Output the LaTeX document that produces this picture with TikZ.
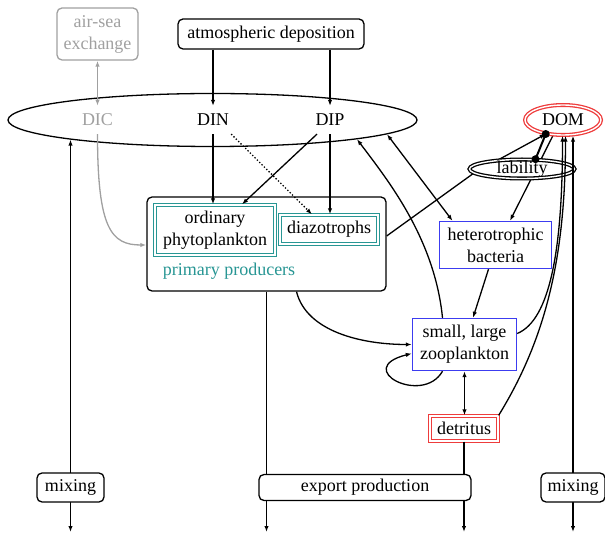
\documentclass[tikz,border=0pt]{standalone}
\usepackage{fontspec}
\setmainfont{Liberation Serif}
\usetikzlibrary{arrows.meta,shapes.geometric,backgrounds}
\definecolor{tealc}{RGB}{40,150,148}
\definecolor{bluec}{RGB}{60,60,240}
\definecolor{redc}{RGB}{238,60,60}
\definecolor{grayc}{RGB}{160,160,160}
\begin{document}
\begin{tikzpicture}[x=1pt,y=-1pt,
  every node/.style={font=\fontsize{18}{22}\selectfont, inner sep=0pt, align=center},
  conn/.style={line width=1.3pt, -{Latex[length=6pt,width=4.4pt]}},
  conntwo/.style={line width=1.3pt, {Latex[length=6pt,width=4.4pt]}-{Latex[length=6pt,width=4.4pt]}},
  rbox/.style={draw, line width=1.3pt, rounded corners=5pt, fill=white},
  tbox/.style={draw=tealc, line width=1.3pt, double=white, double distance=2pt, fill=white},
  bbox/.style={draw=bluec, line width=1.4pt, fill=white},
  rdbox/.style={draw=redc, line width=1.3pt, double=white, double distance=1.4pt, fill=white},
  lbl/.style={inner xsep=2pt, inner ysep=8pt},
]
\useasboundingbox (0,0) rectangle (605,534);

% free ends
\coordinate (endL) at (70.5,532);
\coordinate (endE) at (266.5,532);
\coordinate (endD) at (464,532);
\coordinate (endR) at (573,532);
% attachment points on the border of the nutrient pool
\coordinate (poolL) at (70.5,139.6);
\coordinate (poolB) at (387,134.3);
\coordinate (poolZ) at (357,139.2);

% nodes
\node[draw=grayc, text=grayc, line width=1.3pt, rounded corners=5pt, minimum width=81pt, minimum height=52pt] (airsea) at (97.5,34) {air-sea\\exchange};
\node[rbox, minimum width=186pt, minimum height=30pt] (atm) at (271,34) {atmospheric deposition};
\node[draw, ellipse, line width=1.3pt, minimum width=409pt, minimum height=53pt] (pool) at (212.5,120) {};
\node[lbl, text=grayc] (dic) at (97.5,120) {DIC};
\node[lbl] (din) at (213,120) {DIN};
\node[lbl] (dip) at (330,120) {DIP};
\node[ellipse, draw=redc, line width=1.3pt, double=white, double distance=1.4pt, minimum width=76pt, minimum height=30pt] (dom) at (563,120) {DOM};

\node[rbox, minimum width=239pt, minimum height=94pt] (pp) at (266.5,244) {};
\node[tbox, minimum width=120pt, minimum height=50pt] (phyto) at (215,230) {ordinary\\phytoplankton};
\node[tbox, minimum width=98pt, minimum height=29pt] (diaz) at (329,229.5) {diazotrophs};
\node[text=tealc] (pplab) at (229,271) {primary producers};

\node[bbox, minimum width=112pt, minimum height=47pt] (bact) at (495.5,245) {heterotrophic\\bacteria};
\node[bbox, minimum width=104pt, minimum height=52pt] (zoo) at (464.5,344.5) {small, large\\zooplankton};
\node[rdbox, minimum width=68pt, minimum height=25pt] (det) at (464,428.5) {detritus};

\node[ellipse, draw, line width=1.3pt, double=white, double distance=1.4pt, fill=white, minimum width=105pt, minimum height=19pt] (lab) at (522,169) {\raisebox{-5pt}[0pt][0pt]{lability}};

% lines passing beneath lability
\begin{pgfonlayer}{background}
\draw[conn] ([yshift=8pt]pp.east) -- (lab.185) -- (dom.219);
\draw[conn] (dom.237) -- ([xshift=14.5pt]bact.north);
\end{pgfonlayer}

% connectors
\draw[conntwo, grayc] (airsea.south) -- (dic.north);
\draw[conn, grayc] (dic.south) .. controls +(0,95) and +(-35,0) .. ([yshift=-1pt]pp.west);
\draw[conn] (atm.south -| din) -- (din.north);
\draw[conn] (atm.south -| dip) -- (dip.north);
\draw[conn] (din.south) -- (din.south |- phyto.north);
\draw[conn] ([xshift=-13pt]dip.south) -- ([xshift=27pt]phyto.north);
\draw[conn] (dip.south) -- (dip.south |- diaz.north);
\draw[conn, dotted] (din.south east) -- ([xshift=-17pt]diaz.north);

\draw[conn] ([xshift=30pt]pp.south) .. controls +(10,40) and +(-50,0) .. (zoo.west);
\draw[conn] ([xshift=-22pt]zoo.south) .. controls +(-20,35) and +(-60,15) .. ([yshift=-9pt]zoo.west);
\draw[conn] ([xshift=-7pt]bact.south) -- ([xshift=8.5pt]zoo.north);
\draw[conntwo] (zoo.south) -- (zoo.south |- det.north);
\draw[conn] ([xshift=-22pt]zoo.north) .. controls +(-8,-80) and +(30,40) .. (poolZ);
\draw[conntwo] (poolB) -- ([xshift=-43pt]bact.north);

\draw[line width=2pt] (lab.36) -- (dom.219);
\fill (lab.36) circle (4pt);
\fill (dom.219) circle (4pt);

\draw[conn] ([yshift=11pt]zoo.east) .. controls +(33,-13.5) and +(0,113) .. ([xshift=-0.5pt]dom.south);
\draw[conn] (det.north east) .. controls +(46.5,-75.5) and +(0,123) .. ([xshift=2.5pt]dom.south);

% vertical exchanges
\draw[conntwo] (poolL) -- (endL);
\draw[conntwo] (endR) -- (endR |- dom.south);
\draw[conn] (pp.south) -- (endE);
\draw[conn] (det.south) -- (endD);

\node[rbox, minimum width=67pt, minimum height=29pt] (mixL) at (70.5,487.5) {mixing};
\node[rbox, minimum width=64pt, minimum height=29pt] (mixR) at (573,487.5) {mixing};
\node[rbox, minimum width=212pt, minimum height=26pt] (exp) at (365,487.5) {export production};
\end{tikzpicture}
\end{document}
